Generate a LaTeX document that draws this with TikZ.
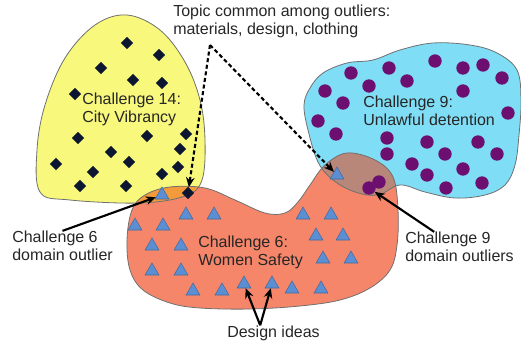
\documentclass[tikz,border=0pt]{standalone}
\usepackage{fontspec}
\setmainfont{Liberation Sans}
\usepackage{xcolor}
\usepackage{tikz}
\usetikzlibrary{calc}
\usetikzlibrary{arrows.meta}
\usetikzlibrary{shapes.geometric}

\definecolor{vibrancy}{HTML}{F8F87C}
\definecolor{detention}{HTML}{80DDF6}
\definecolor{safety}{HTML}{F6866A}
\definecolor{mixorange}{HTML}{F39A3A}
\definecolor{mixbrown}{HTML}{B8877A}
\definecolor{diamcol}{HTML}{0C1630}
\definecolor{dotcol}{HTML}{6C0F70}
\definecolor{tricol}{HTML}{5B8ED2}
\definecolor{edgecol}{HTML}{707070}
\definecolor{textcol}{HTML}{262626}

\newcommand{\vibrancyblob}{plot[smooth cycle, tension=0.6] coordinates {(127,15) (160,30) (185,62) (200,100) (205,140) (202,180) (185,196) (140,203) (70,200) (40,192) (37,150) (45,105) (65,58) (95,25)}}
\newcommand{\detentionblob}{plot[smooth cycle, tension=0.6] coordinates {(310,88) (323,73) (347,63) (373,60) (400,50) (433,43) (470,45) (497,53) (517,70) (521,100) (519,135) (515,165) (505,185) (485,195) (455,198) (425,192) (400,185) (378,195) (355,192) (333,180) (318,162) (308,130) (304,105)}}
\newcommand{\safetyblob}{plot[smooth cycle, tension=0.6] coordinates {(145,195) (170,187) (205,188) (235,200) (265,213) (285,213) (298,202) (310,185) (325,165) (347,153) (375,160) (393,177) (398,210) (397,245) (390,270) (370,288) (340,300) (300,306) (250,309) (200,308) (170,303) (143,290) (130,270) (127,240) (132,210)}}

\tikzset{
  chlabel/.style={anchor=west, align=left, inner sep=0, text=textcol, font=\fontsize{12}{13.5}\selectfont},
  diam/.style={diamond, fill=diamcol, minimum width=9.5pt, minimum height=9.5pt, inner sep=0},
  dot/.style={circle, fill=dotcol, minimum size=10pt, inner sep=0},
  tri/.style={regular polygon, regular polygon sides=3, fill=tricol, draw=tricol!75!black, line width=0.4pt, minimum size=12pt, inner sep=0, yshift=-1.5pt},
  outarrow/.style={black, line width=1.6pt, -{Stealth[length=7.5pt,width=6.5pt]}},
  topicarrow/.style={outarrow, dash pattern=on 3pt off 2pt}
}

\begin{document}
\begin{tikzpicture}[x=0.75pt, y=-0.75pt]
\useasboundingbox (0,0) rectangle (521,346);

\fill[vibrancy] \vibrancyblob;
\fill[detention] \detentionblob;
\fill[safety] \safetyblob;
\begin{scope}
\clip \safetyblob;
\fill[mixorange] \vibrancyblob;
\fill[mixbrown] \detentionblob;
\end{scope}
\draw[edgecol, line width=0.6pt] \vibrancyblob;
\draw[edgecol, line width=0.6pt] \detentionblob;
\draw[edgecol, line width=0.6pt] \safetyblob;

\foreach \x/\y [count=\i] in {127/43, 159/55, 101/68, 133/80, 162/83, 75/94, 78/138, 147/136, 186/134, 111/152, 180/149, 129/162, 56/164, 93/172, 178/167, 162/174, 80/186, 126/186, 188/193}
  \node[diam] (d\i) at (\x,\y) {};

\foreach \x/\y [count=\i] in {435/61, 351/73, 389/68, 463/68, 483/65, 502/78, 325/91, 369/86, 407/81, 463/91, 343/103, 508/113, 318/121, 336/134, 387/138, 427/142, 478/142, 387/154, 445/154, 497/154, 412/164, 463/169, 427/175, 482/183, 446/188, 379/182, 369/188}
  \node[dot] (c\i) at (\x,\y) {};

\foreach \x/\y [count=\i] in {162/193, 186/213, 214/213, 135/224, 163/224, 152/244, 181/244, 152/269, 181/269, 193/289, 222/289, 244/282, 272/282, 292/287, 321/287, 303/213, 331/213, 316/234, 343/234, 323/257, 351/257, 337/173}
  \node[tri] (t\i) at (\x,\y) {};

\node[chlabel] (vib) at (82,109) {Challenge 14:\\City Vibrancy};
\node[chlabel] (det) at (363,111) {Challenge 9:\\Unlawful detention};
\node[chlabel] (saf) at (198,252) {Challenge 6:\\Women Safety};
\node[chlabel] (topic) at (173,21) {Topic common among outliers:\\materials, design, clothing};
\node[chlabel] (out6) at (12,246) {Challenge 6\\domain outlier};
\node[chlabel] (out9) at (405,247) {Challenge 9\\domain outliers};
\node[chlabel] (ideas) at (227,333) {Design ideas};

\coordinate (tapex) at (210,45);
\draw[topicarrow] (tapex) -- (d19);
\draw[topicarrow] (tapex) -- (t22);
\draw[outarrow] (out6.north) -- (t1);
\draw[outarrow] ([xshift=-19pt]out9.north) -- (c27);
\draw[outarrow] ([xshift=-10pt]ideas.north) -- (t12);
\draw[outarrow] ([xshift=-10pt]ideas.north) -- (t13);
\end{tikzpicture}
\end{document}
